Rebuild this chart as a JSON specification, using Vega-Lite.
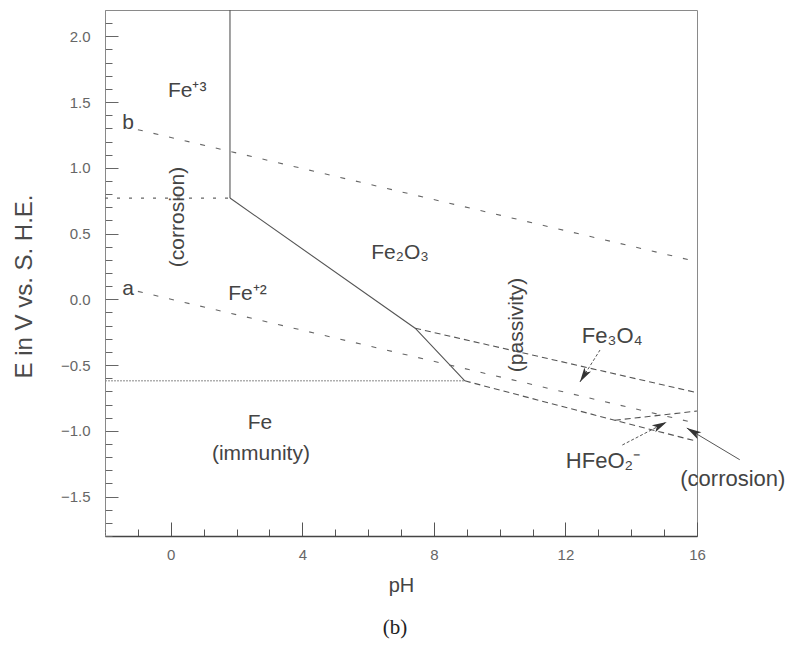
{
  "$schema": "https://vega.github.io/schema/vega-lite/v6.json",
  "width": 592,
  "height": 526,
  "autosize": {"type": "none"},
  "padding": {"left": 105, "top": 10, "right": 92, "bottom": 131},
  "background": "white",
  "config": {
    "font": "Liberation Sans",
    "view": {"stroke": "#8a8a8a", "strokeWidth": 1}
  },
  "title": {
    "text": "(b)",
    "orient": "bottom",
    "anchor": "middle",
    "font": "Liberation Serif",
    "fontSize": 21,
    "fontWeight": "normal",
    "color": "#222",
    "offset": 22,
    "dx": -6
  },
  "datasets": {
    "lines": [
      {"id": "vert", "pH": 1.8, "E": 0.77}, {"id": "vert", "pH": 1.8, "E": 2.2},
      {"id": "diag", "pH": 1.8, "E": 0.77}, {"id": "diag", "pH": 7.43, "E": -0.22}, {"id": "diag", "pH": 8.94, "E": -0.62},
      {"id": "fe3fe2", "pH": -2, "E": 0.77}, {"id": "fe3fe2", "pH": 1.8, "E": 0.77},
      {"id": "fefe2", "pH": -2, "E": -0.62}, {"id": "fefe2", "pH": 8.94, "E": -0.62},
      {"id": "a", "pH": -1, "E": 0.06}, {"id": "a", "pH": 16, "E": -0.944},
      {"id": "b", "pH": -1, "E": 1.29}, {"id": "b", "pH": 16, "E": 0.286},
      {"id": "hema_mag", "pH": 7.43, "E": -0.22}, {"id": "hema_mag", "pH": 16, "E": -0.71},
      {"id": "mag_fe", "pH": 8.94, "E": -0.62}, {"id": "mag_fe", "pH": 13.5, "E": -0.92}, {"id": "mag_fe", "pH": 16, "E": -1.08},
      {"id": "mag_hfe", "pH": 13.5, "E": -0.92}, {"id": "mag_hfe", "pH": 16, "E": -0.85},
      {"id": "arr1", "pH": 13.05, "E": -0.386}, {"id": "arr1", "pH": 12.44, "E": -0.629},
      {"id": "arr2", "pH": 13.73, "E": -1.108}, {"id": "arr2", "pH": 15.08, "E": -0.933},
      {"id": "arr3", "pH": 17.3, "E": -1.22}, {"id": "arr3", "pH": 15.69, "E": -0.979}
    ],
    "heads": [
      {"id": "h1", "pH": 12.44, "E": -0.629},
      {"id": "h2", "pH": 15.08, "E": -0.933},
      {"id": "h3", "pH": 15.69, "E": -0.979}
    ],
    "labels": [
      {"kind": "flat", "label": "Fe⁺³", "pH": 0.5, "E": 1.584},
      {"kind": "flat", "label": "Fe⁺²", "pH": 2.33, "E": 0.04},
      {"kind": "flat", "label": "Fe₂O₃", "pH": 6.97, "E": 0.35},
      {"kind": "flat", "label": "Fe", "pH": 2.71, "E": -0.94},
      {"kind": "flat", "label": "(immunity)", "pH": 2.74, "E": -1.18},
      {"kind": "flat", "label": "a", "pH": -1.3, "E": 0.078},
      {"kind": "flat", "label": "b", "pH": -1.3, "E": 1.34},
      {"kind": "big", "label": "Fe₃O₄", "pH": 13.42, "E": -0.28},
      {"kind": "big", "label": "HFeO₂⁻", "pH": 13.14, "E": -1.23},
      {"kind": "big", "label": "(corrosion)", "pH": 17.09, "E": -1.367},
      {"kind": "rot", "label": "(corrosion)", "pH": 0.22, "E": 0.626},
      {"kind": "rot", "label": "(passivity)", "pH": 10.53, "E": -0.195}
    ]
  },
  "encoding": {
    "x": {
      "field": "pH",
      "type": "quantitative",
      "scale": {"domain": [-2, 16], "nice": false, "zero": false},
      "axis": {
        "title": "pH",
        "titleFontSize": 20,
        "titleFontWeight": "normal",
        "titleColor": "#444",
        "titlePadding": 6,
        "values": [-2, -1, 0, 1, 2, 3, 4, 5, 6, 7, 8, 9, 10, 11, 12, 13, 14, 15, 16],
        "labelExpr": "datum.value % 4 == 0 ? datum.label : ''",
        "labelFlush": false,
        "labelOverlap": false,
        "labelFontSize": 15,
        "labelColor": "#666",
        "labelPadding": 25,
        "tickSize": {"condition": {"test": "datum.value % 4 == 0", "value": -14}, "value": -7},
        "tickColor": "#555",
        "domainColor": "#444",
        "domainWidth": 1.5,
        "grid": false
      }
    },
    "y": {
      "field": "E",
      "type": "quantitative",
      "scale": {"domain": [-1.8, 2.2], "nice": false, "zero": false},
      "axis": {
        "title": "E in V vs. S. H.E.",
        "titleFontSize": 24,
        "titleFontWeight": "normal",
        "titleColor": "#4a4a4a",
        "titlePadding": 24,
        "titleY": 276,
        "values": [-1.8, -1.7, -1.6, -1.5, -1.4, -1.3, -1.2, -1.1, -1.0, -0.9, -0.8, -0.7, -0.6, -0.5, -0.4, -0.3, -0.2, -0.1, 0, 0.1, 0.2, 0.3, 0.4, 0.5, 0.6, 0.7, 0.8, 0.9, 1.0, 1.1, 1.2, 1.3, 1.4, 1.5, 1.6, 1.7, 1.8, 1.9, 2.0, 2.1],
        "labelExpr": "abs(round(datum.value * 10)) % 5 == 0 ? format(datum.value, '.1f') : ''",
        "labelFlush": false,
        "labelOverlap": false,
        "labelFontSize": 15,
        "labelColor": "#666",
        "labelPadding": 28,
        "tickSize": {"condition": {"test": "abs(round(datum.value * 10)) % 5 == 0", "value": -13}, "value": -7},
        "tickColor": "#666",
        "domainColor": "#888",
        "domainWidth": 1,
        "domainDash": [2, 1],
        "grid": false
      }
    }
  },
  "layer": [
    {
      "data": {"name": "lines"},
      "transform": [{"filter": "datum.id == 'vert' || datum.id == 'diag'"}],
      "mark": {"type": "line", "color": "#555", "strokeWidth": 1.1},
      "encoding": {"detail": {"field": "id"}}
    },
    {
      "data": {"name": "lines"},
      "transform": [{"filter": "datum.id == 'fe3fe2'"}],
      "mark": {"type": "line", "color": "#666", "strokeWidth": 1.2, "strokeDash": [3, 9]},
      "encoding": {"detail": {"field": "id"}}
    },
    {
      "data": {"name": "lines"},
      "transform": [{"filter": "datum.id == 'fefe2'"}],
      "mark": {"type": "line", "color": "#888", "strokeWidth": 1, "strokeDash": [2, 1]},
      "encoding": {"detail": {"field": "id"}}
    },
    {
      "data": {"name": "lines"},
      "transform": [{"filter": "datum.id == 'a' || datum.id == 'b'"}],
      "mark": {"type": "line", "color": "#666", "strokeWidth": 1.1, "strokeDash": [5, 11]},
      "encoding": {"detail": {"field": "id"}}
    },
    {
      "data": {"name": "lines"},
      "transform": [{"filter": "datum.id == 'hema_mag' || datum.id == 'mag_fe' || datum.id == 'mag_hfe'"}],
      "mark": {"type": "line", "color": "#555", "strokeWidth": 1.1, "strokeDash": [6, 4]},
      "encoding": {"detail": {"field": "id"}}
    },
    {
      "data": {"name": "lines"},
      "transform": [{"filter": "datum.id == 'arr1' || datum.id == 'arr2'"}],
      "mark": {"type": "line", "color": "#555", "strokeWidth": 1, "strokeDash": [3, 2]},
      "encoding": {"detail": {"field": "id"}}
    },
    {
      "data": {"name": "lines"},
      "transform": [{"filter": "datum.id == 'arr3'"}],
      "mark": {"type": "line", "color": "#555", "strokeWidth": 1},
      "encoding": {"detail": {"field": "id"}}
    },
    {
      "data": {"name": "heads"},
      "transform": [{"filter": "datum.id == 'h1'"}],
      "mark": {"type": "point", "shape": "M0,0L0.45,1.7L0,1.3L-0.45,1.7Z", "size": 300, "filled": true, "color": "#333", "opacity": 1, "angle": 212}
    },
    {
      "data": {"name": "heads"},
      "transform": [{"filter": "datum.id == 'h2'"}],
      "mark": {"type": "point", "shape": "M0,0L0.45,1.7L0,1.3L-0.45,1.7Z", "size": 300, "filled": true, "color": "#333", "opacity": 1, "angle": 63}
    },
    {
      "data": {"name": "heads"},
      "transform": [{"filter": "datum.id == 'h3'"}],
      "mark": {"type": "point", "shape": "M0,0L0.45,1.7L0,1.3L-0.45,1.7Z", "size": 300, "filled": true, "color": "#333", "opacity": 1, "angle": 301}
    },
    {
      "data": {"name": "labels"},
      "transform": [{"filter": "datum.kind == 'flat'"}],
      "mark": {"type": "text", "fontSize": 21, "color": "#444", "align": "center", "baseline": "middle"},
      "encoding": {"text": {"field": "label"}}
    },
    {
      "data": {"name": "labels"},
      "transform": [{"filter": "datum.kind == 'big'"}],
      "mark": {"type": "text", "fontSize": 22, "color": "#444", "align": "center", "baseline": "middle"},
      "encoding": {"text": {"field": "label"}}
    },
    {
      "data": {"name": "labels"},
      "transform": [{"filter": "datum.kind == 'rot'"}],
      "mark": {"type": "text", "fontSize": 21, "color": "#444", "align": "center", "baseline": "middle", "angle": 270},
      "encoding": {"text": {"field": "label"}}
    }
  ]
}
